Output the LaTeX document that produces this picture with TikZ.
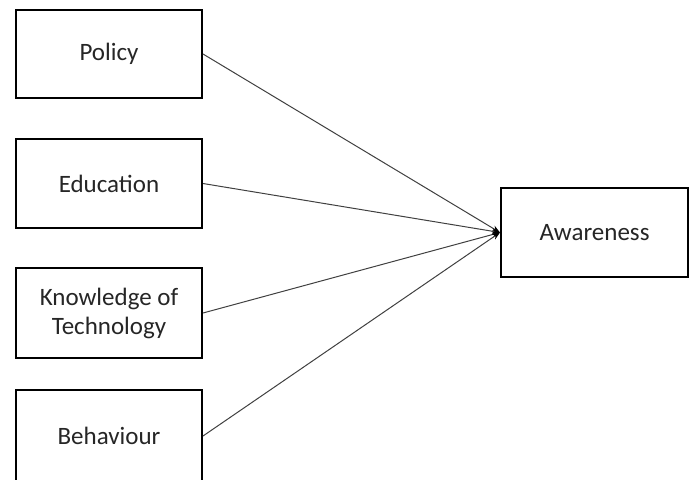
\documentclass[tikz,border=0pt]{standalone}
\usepackage{fontspec}
\setmainfont{Carlito}
\usetikzlibrary{arrows.meta}
\begin{document}
\begin{tikzpicture}[x=1pt,y=-1pt,
  box/.style={draw=black, line width=2pt, fill=white, minimum width=186pt, minimum height=88pt,
    inner sep=0pt, align=center, text=black!85, font=\fontsize{25}{29}\selectfont},
  conn/.style={draw=black!75, line width=1pt, -{Stealth[length=8pt,width=6pt,black]}}]
\useasboundingbox (0,0) rectangle (693,479);
\clip (0,0) rectangle (693,479);
\node[box] (pol) at (109,54) {Policy};
\node[box, minimum height=89pt] (edu) at (109,183.5) {Education};
\node[box, minimum height=90pt] (kno) at (109,313) {Knowledge of\\Technology};
\node[box, minimum height=92pt] (beh) at (109,436) {Behaviour};
\node[box, minimum width=187pt, minimum height=89pt] (awa) at (594.5,232.5) {Awareness};
\draw[conn] (pol.east) -- (awa.west);
\draw[conn] (edu.east) -- (awa.west);
\draw[conn] (kno.east) -- (awa.west);
\draw[conn] (beh.east) -- (awa.west);
\end{tikzpicture}
\end{document}
